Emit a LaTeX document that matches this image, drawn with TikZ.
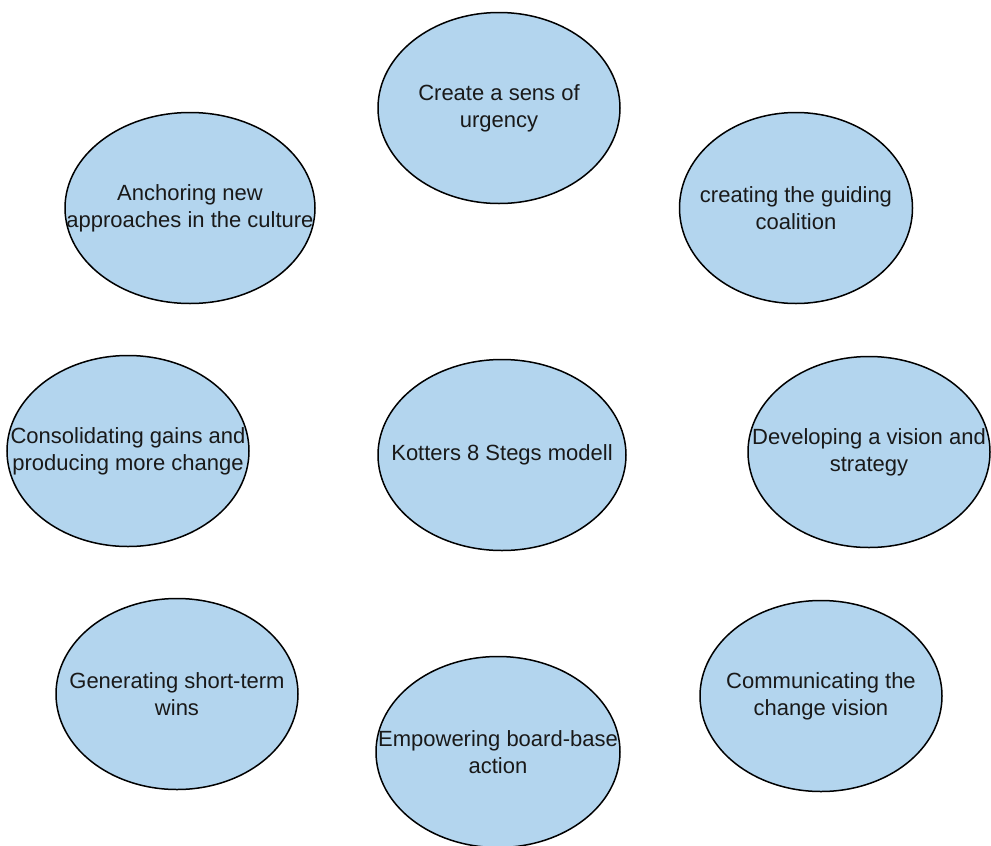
\documentclass[tikz,border=0pt]{standalone}
\usepackage{fontspec}
\setmainfont{Liberation Sans}
\usetikzlibrary{shapes.geometric}
\definecolor{stepblue}{RGB}{179,213,238}
\begin{document}
\begin{tikzpicture}
		[x=1pt, y=-1pt,
		stepbox/.style={ellipse, draw=black, fill=stepblue,
			line width=1.5pt, inner sep=0pt,
			minimum width=242pt, minimum height=191pt},
		steptext/.style={align=center, text=black!90,
			font=\fontsize{22}{27}\selectfont}]
		\useasboundingbox (0,0) rectangle (991,846);
		\node[stepbox, label={[steptext]center:Create a sens of\\urgency}] (urgency) at (499,108) {};
		\node[stepbox, minimum width=233pt, label={[steptext]center:creating the guiding\\coalition}] (coalition) at (796,208) {};
		\node[stepbox, minimum width=250pt, label={[steptext]center:Anchoring new\\approaches in the culture}] (anchor) at (190,208) {};
		\node[stepbox, minimum width=248pt, label={[steptext]center:Kotters 8 Stegs modell}] (model) at (502,455) {};
		\node[stepbox, label={[steptext]center:Consolidating gains and\\producing more change}] (consolidate) at (128,451) {};
		\node[stepbox, label={[steptext]center:Developing a vision and\\strategy}] (vision) at (869,452) {};
		\node[stepbox, label={[steptext]center:Generating short-term\\wins}] (wins) at (177,694) {};
		\node[stepbox, label={[steptext]center:Communicating the\\change vision}] (communicate) at (821,696) {};
		\node[stepbox, minimum width=244pt, label={[steptext]center:Empowering board-base\\action}] (empower) at (498,752) {};
	\end{tikzpicture}
\end{document}
